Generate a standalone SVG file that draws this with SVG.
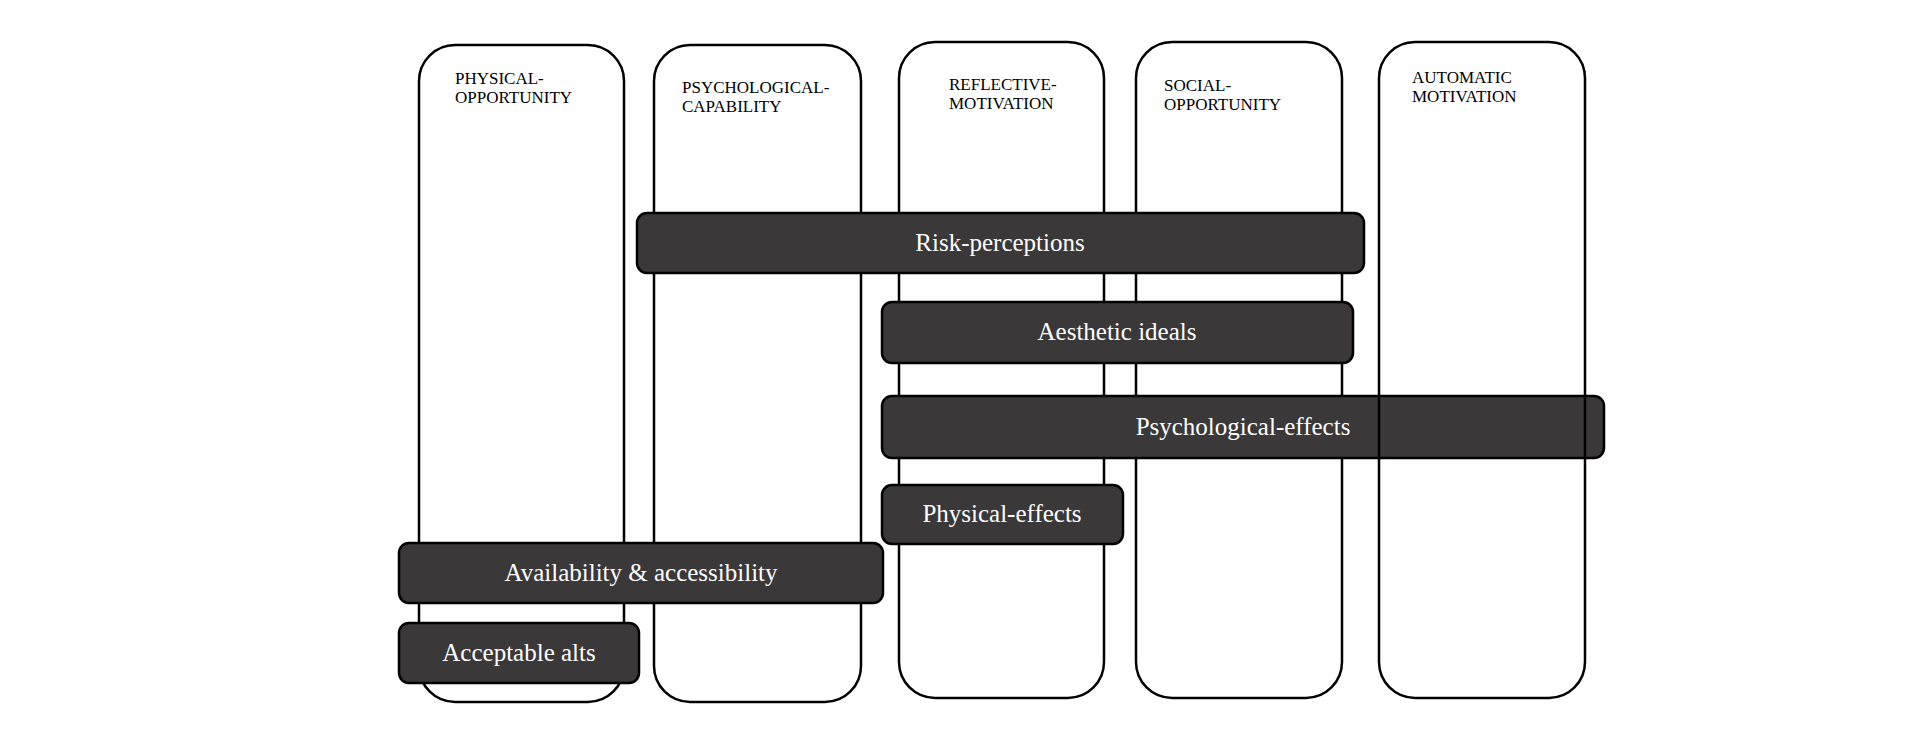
<svg xmlns="http://www.w3.org/2000/svg" width="1920" height="730" viewBox="0 0 1920 730">
<style>
.col{fill:#ffffff;stroke:#000000;stroke-width:2.5}
.colo{fill:none;stroke:#000000;stroke-width:2.5}
.ct{font-family:"Liberation Serif","Times New Roman",serif;font-size:17px;fill:#000000}
.bar{fill:#3a3839;stroke:#000000;stroke-width:2.5}
.bt{font-family:"Liberation Serif","Times New Roman",serif;font-size:25px;fill:#ffffff;text-anchor:middle}
</style>
<rect width="1920" height="730" fill="#ffffff"/>
<g id="col-physical-opportunity">
<rect class="col" x="419" y="45" width="205" height="657" rx="36"/>
<text class="ct" x="455" y="84">PHYSICAL-</text>
<text class="ct" x="455" y="103">OPPORTUNITY</text>
</g>
<g id="col-psychological-capability">
<rect class="col" x="654" y="45" width="207" height="657" rx="36"/>
<text class="ct" x="682" y="93">PSYCHOLOGICAL-</text>
<text class="ct" x="682" y="112">CAPABILITY</text>
</g>
<g id="col-reflective-motivation">
<rect class="col" x="899" y="42" width="205" height="656" rx="36"/>
<text class="ct" x="949" y="90">REFLECTIVE-</text>
<text class="ct" x="949" y="109">MOTIVATION</text>
</g>
<g id="col-social-opportunity">
<rect class="col" x="1136" y="42" width="206" height="656" rx="36"/>
<text class="ct" x="1164" y="91">SOCIAL-</text>
<text class="ct" x="1164" y="110">OPPORTUNITY</text>
</g>
<g id="bar-risk-perceptions">
<rect class="bar" x="637" y="213" width="727" height="60" rx="10"/>
<text class="bt" x="1000" y="251">Risk-perceptions</text>
</g>
<g id="bar-aesthetic-ideals">
<rect class="bar" x="882" y="302" width="471" height="61" rx="10"/>
<text class="bt" x="1117" y="340">Aesthetic ideals</text>
</g>
<g id="bar-psychological-effects">
<rect class="bar" x="882" y="396" width="722" height="62" rx="10"/>
<text class="bt" x="1243" y="435">Psychological-effects</text>
</g>
<g id="bar-physical-effects">
<rect class="bar" x="882" y="485" width="241" height="59" rx="10"/>
<text class="bt" x="1002" y="522">Physical-effects</text>
</g>
<g id="bar-availability-accessibility">
<rect class="bar" x="399" y="543" width="484" height="60" rx="10"/>
<text class="bt" x="641" y="581">Availability &amp; accessibility</text>
</g>
<g id="bar-acceptable-alts">
<rect class="bar" x="399" y="623" width="240" height="60" rx="10"/>
<text class="bt" x="519" y="661">Acceptable alts</text>
</g>
<g id="col-automatic-motivation">
<rect class="colo" x="1379" y="42" width="206" height="656" rx="36"/>
<text class="ct" x="1412" y="83">AUTOMATIC</text>
<text class="ct" x="1412" y="102">MOTIVATION</text>
</g>
<g id="connectors"/>
</svg>
